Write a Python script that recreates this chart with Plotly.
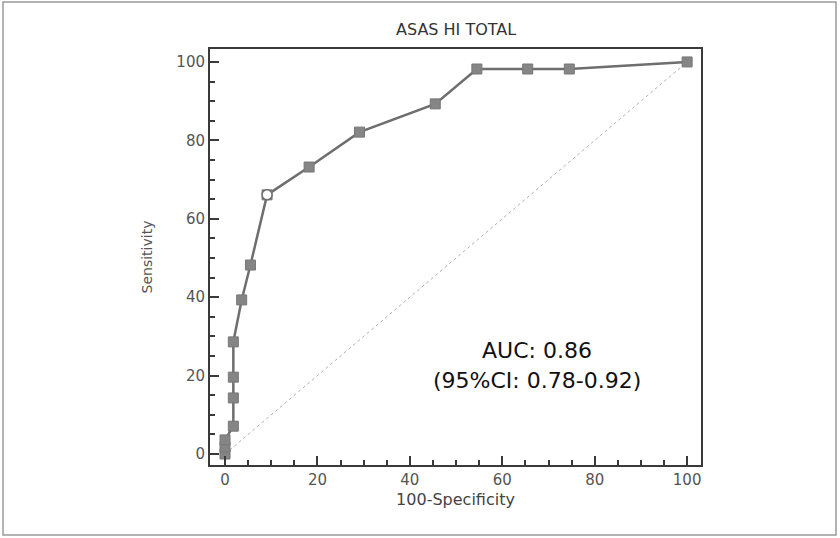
import plotly.graph_objects as go

# ROC data (100-Specificity, Sensitivity)
fpr = [0, 0, 0, 1.8, 1.8, 1.8, 1.8, 3.6, 5.5, 9.1, 18.2, 29.1, 45.5, 54.5, 65.5, 74.5, 100]
tpr = [0, 1.8, 3.6, 7.1, 14.3, 19.6, 28.6, 39.3, 48.2, 66.1, 73.2, 82.1, 89.3, 98.2, 98.2, 98.2, 100]
cut_fpr = [9.1]
cut_tpr = [66.1]
diag = [0, 100]
tick_vals = [0, 20, 40, 60, 80, 100]

title_text = "ASAS HI TOTAL"
x_title = "100-Specificity"
y_title = "Sensitivity"
auc_lines = ["AUC: 0.86", "(95%CI: 0.78-0.92)"]

FONT = "DejaVu Sans"

fig = go.Figure()
fig.add_trace(go.Scatter(x=diag, y=diag, mode="lines",
                         line=dict(color="#b0b0b0", width=1, dash="dot"),
                         hoverinfo="skip", showlegend=False))
fig.add_trace(go.Scatter(x=fpr, y=tpr, mode="lines+markers",
                         line=dict(color="#6e6e6e", width=2.5),
                         marker=dict(symbol="square", size=10, color="#858585",
                                     line=dict(color="#777777", width=1)),
                         showlegend=False))
fig.add_trace(go.Scatter(x=cut_fpr, y=cut_tpr, mode="markers",
                         marker=dict(symbol="circle", size=10, color="white",
                                     line=dict(color="#6e6e6e", width=1.5)),
                         showlegend=False))

axis_common = dict(
    showline=True, linecolor="#3a3a3a", linewidth=2, mirror=True,
    showgrid=False, zeroline=False,
    ticks="inside", ticklen=9, tickwidth=2, tickcolor="#3a3a3a",
    tickvals=tick_vals, ticktext=[str(v) for v in tick_vals],
    tickfont=dict(family=FONT, size=15, color="#555555"),
    minor=dict(ticks="inside", ticklen=5, tickwidth=1.5, tickcolor="#3a3a3a", dtick=5, tick0=0),
)

fig.update_xaxes(range=[-3.25, 103], title=dict(text=x_title, font=dict(family=FONT, size=16, color="#444444"), standoff=6),
                 **axis_common)
fig.update_yaxes(range=[-2.8, 103.3], title=dict(text=y_title, font=dict(family=FONT, size=14, color="#555555"), standoff=20),
                 **axis_common)

fig.add_annotation(x=0.5, y=1.0, xref="paper", yref="paper", yanchor="bottom", yshift=8,
                   text=title_text, showarrow=False,
                   font=dict(family=FONT, size=16, color="#333333"))
fig.add_annotation(x=67.5, y=26.5, xref="x", yref="y", text=auc_lines[0], showarrow=False,
                   font=dict(family=FONT, size=22, color="#111111"))
fig.add_annotation(x=67.5, y=18.8, xref="x", yref="y", text=auc_lines[1], showarrow=False,
                   font=dict(family=FONT, size=22, color="#111111"))

# outer frame
fig.add_shape(type="rect", xref="paper", yref="paper",
              x0=(3 - 210) / 491, x1=(836 - 210) / 491,
              y0=(465 - 535) / 416, y1=(465 - 2) / 416,
              line=dict(color="#9a9a9a", width=1.5), fillcolor="rgba(0,0,0,0)", layer="below")

fig.update_layout(width=840, height=538,
                  margin=dict(l=210, r=139, t=49, b=73, autoexpand=False),
                  paper_bgcolor="white", plot_bgcolor="white")

fig.write_html("out.html", config={"displayModeBar": False},
               post_script="document.body.style.margin='0';")
